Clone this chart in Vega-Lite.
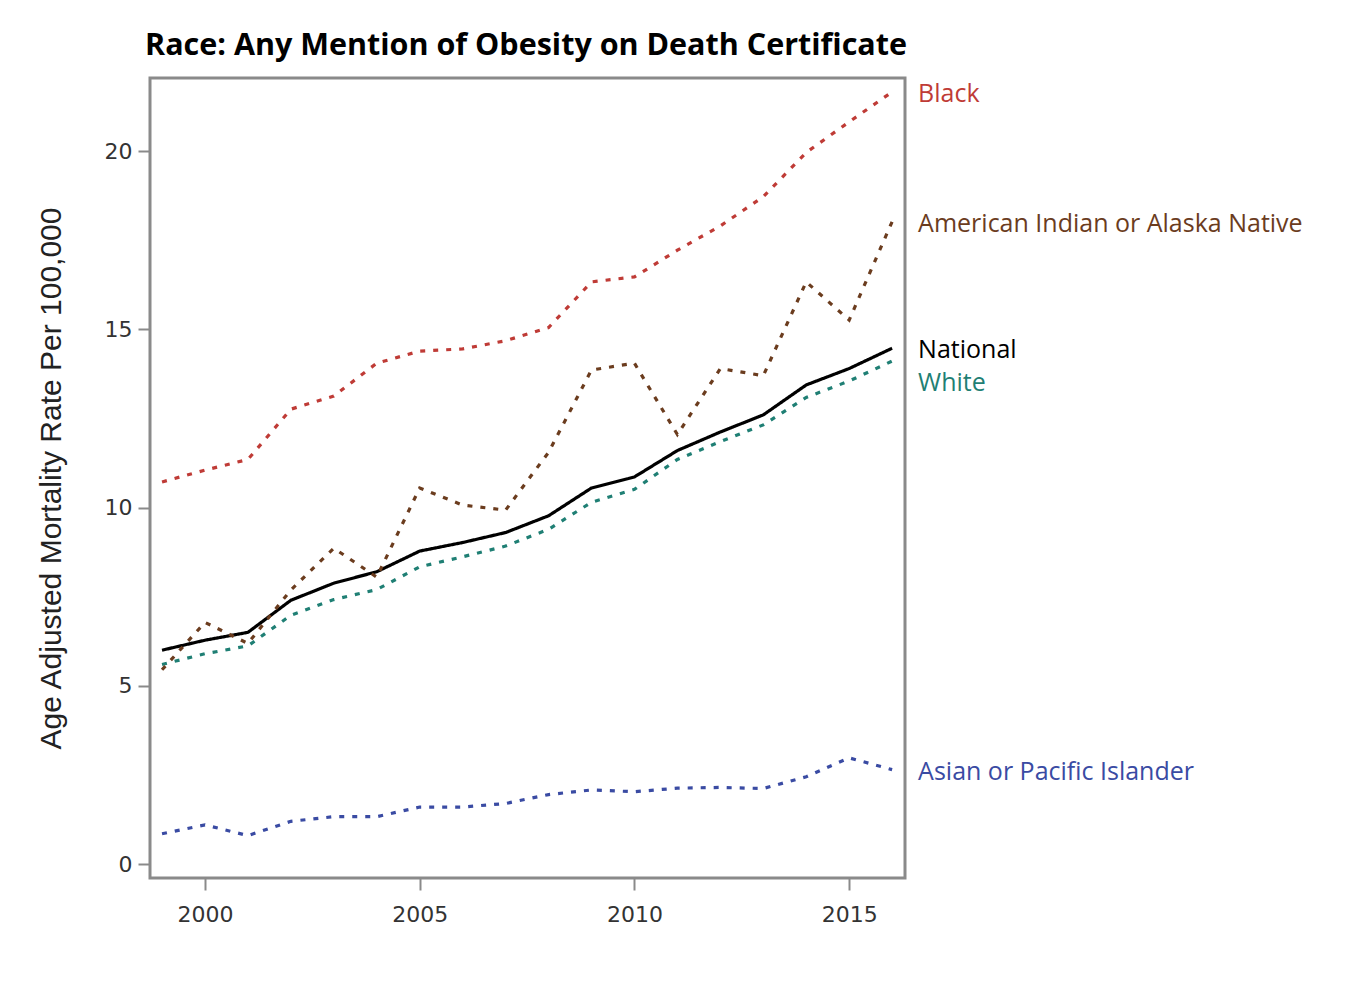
{
  "$schema": "https://vega.github.io/schema/vega-lite/v6.json",
  "width": 755,
  "height": 800,
  "autosize": {"type": "none"},
  "padding": {"left": 150, "top": 78, "right": 446, "bottom": 130},
  "background": "white",
  "title": {
    "text": "Race: Any Mention of Obesity on Death Certificate",
    "anchor": "start",
    "frame": "group",
    "font": "Open Sans",
    "fontSize": 30.5,
    "fontWeight": "bold",
    "color": "#000000",
    "baseline": "alphabetic",
    "offset": 21,
    "dy": 28,
    "dx": -5
  },
  "config": {
    "view": {"stroke": "#8a8a8a", "strokeWidth": 3},
    "axis": {
      "domain": false,
      "grid": false,
      "tickColor": "#8a8a8a",
      "tickWidth": 2,
      "tickSize": 12,
      "labelFont": "DejaVu Sans",
      "labelFontSize": 22,
      "labelColor": "#333333",
      "titleFont": "Liberation Sans",
      "titleFontWeight": "normal",
      "titleFontSize": 30,
      "titleColor": "#222222"
    }
  },
  "data": {
    "values": [
      {"year": 1999, "group": "National", "rate": 6.0},
      {"year": 2000, "group": "National", "rate": 6.28},
      {"year": 2001, "group": "National", "rate": 6.5},
      {"year": 2002, "group": "National", "rate": 7.4},
      {"year": 2003, "group": "National", "rate": 7.88},
      {"year": 2004, "group": "National", "rate": 8.2},
      {"year": 2005, "group": "National", "rate": 8.78},
      {"year": 2006, "group": "National", "rate": 9.02},
      {"year": 2007, "group": "National", "rate": 9.3},
      {"year": 2008, "group": "National", "rate": 9.77},
      {"year": 2009, "group": "National", "rate": 10.55},
      {"year": 2010, "group": "National", "rate": 10.86},
      {"year": 2011, "group": "National", "rate": 11.6},
      {"year": 2012, "group": "National", "rate": 12.12},
      {"year": 2013, "group": "National", "rate": 12.6},
      {"year": 2014, "group": "National", "rate": 13.44},
      {"year": 2015, "group": "National", "rate": 13.9},
      {"year": 2016, "group": "National", "rate": 14.47},

      {"year": 1999, "group": "White", "rate": 5.6},
      {"year": 2000, "group": "White", "rate": 5.9},
      {"year": 2001, "group": "White", "rate": 6.12},
      {"year": 2002, "group": "White", "rate": 6.98},
      {"year": 2003, "group": "White", "rate": 7.42},
      {"year": 2004, "group": "White", "rate": 7.7},
      {"year": 2005, "group": "White", "rate": 8.34},
      {"year": 2006, "group": "White", "rate": 8.62},
      {"year": 2007, "group": "White", "rate": 8.92},
      {"year": 2008, "group": "White", "rate": 9.39},
      {"year": 2009, "group": "White", "rate": 10.15},
      {"year": 2010, "group": "White", "rate": 10.51},
      {"year": 2011, "group": "White", "rate": 11.35},
      {"year": 2012, "group": "White", "rate": 11.85},
      {"year": 2013, "group": "White", "rate": 12.32},
      {"year": 2014, "group": "White", "rate": 13.09},
      {"year": 2015, "group": "White", "rate": 13.55},
      {"year": 2016, "group": "White", "rate": 14.11},

      {"year": 1999, "group": "Black", "rate": 10.72},
      {"year": 2000, "group": "Black", "rate": 11.05},
      {"year": 2001, "group": "Black", "rate": 11.35},
      {"year": 2002, "group": "Black", "rate": 12.76},
      {"year": 2003, "group": "Black", "rate": 13.13},
      {"year": 2004, "group": "Black", "rate": 14.05},
      {"year": 2005, "group": "Black", "rate": 14.39},
      {"year": 2006, "group": "Black", "rate": 14.45},
      {"year": 2007, "group": "Black", "rate": 14.68},
      {"year": 2008, "group": "Black", "rate": 15.05},
      {"year": 2009, "group": "Black", "rate": 16.33},
      {"year": 2010, "group": "Black", "rate": 16.47},
      {"year": 2011, "group": "Black", "rate": 17.22},
      {"year": 2012, "group": "Black", "rate": 17.9},
      {"year": 2013, "group": "Black", "rate": 18.72},
      {"year": 2014, "group": "Black", "rate": 19.96},
      {"year": 2015, "group": "Black", "rate": 20.82},
      {"year": 2016, "group": "Black", "rate": 21.66},

      {"year": 1999, "group": "American Indian or Alaska Native", "rate": 5.45},
      {"year": 2000, "group": "American Indian or Alaska Native", "rate": 6.78},
      {"year": 2001, "group": "American Indian or Alaska Native", "rate": 6.19},
      {"year": 2002, "group": "American Indian or Alaska Native", "rate": 7.69},
      {"year": 2003, "group": "American Indian or Alaska Native", "rate": 8.86},
      {"year": 2004, "group": "American Indian or Alaska Native", "rate": 8.05},
      {"year": 2005, "group": "American Indian or Alaska Native", "rate": 10.55},
      {"year": 2006, "group": "American Indian or Alaska Native", "rate": 10.07},
      {"year": 2007, "group": "American Indian or Alaska Native", "rate": 9.93},
      {"year": 2008, "group": "American Indian or Alaska Native", "rate": 11.55},
      {"year": 2009, "group": "American Indian or Alaska Native", "rate": 13.86},
      {"year": 2010, "group": "American Indian or Alaska Native", "rate": 14.05},
      {"year": 2011, "group": "American Indian or Alaska Native", "rate": 12.05},
      {"year": 2012, "group": "American Indian or Alaska Native", "rate": 13.9},
      {"year": 2013, "group": "American Indian or Alaska Native", "rate": 13.7},
      {"year": 2014, "group": "American Indian or Alaska Native", "rate": 16.33},
      {"year": 2015, "group": "American Indian or Alaska Native", "rate": 15.26},
      {"year": 2016, "group": "American Indian or Alaska Native", "rate": 18.02},

      {"year": 1999, "group": "Asian or Pacific Islander", "rate": 0.85},
      {"year": 2000, "group": "Asian or Pacific Islander", "rate": 1.1},
      {"year": 2001, "group": "Asian or Pacific Islander", "rate": 0.8},
      {"year": 2002, "group": "Asian or Pacific Islander", "rate": 1.2},
      {"year": 2003, "group": "Asian or Pacific Islander", "rate": 1.33},
      {"year": 2004, "group": "Asian or Pacific Islander", "rate": 1.33},
      {"year": 2005, "group": "Asian or Pacific Islander", "rate": 1.6},
      {"year": 2006, "group": "Asian or Pacific Islander", "rate": 1.6},
      {"year": 2007, "group": "Asian or Pacific Islander", "rate": 1.7},
      {"year": 2008, "group": "Asian or Pacific Islander", "rate": 1.95},
      {"year": 2009, "group": "Asian or Pacific Islander", "rate": 2.08},
      {"year": 2010, "group": "Asian or Pacific Islander", "rate": 2.03},
      {"year": 2011, "group": "Asian or Pacific Islander", "rate": 2.13},
      {"year": 2012, "group": "Asian or Pacific Islander", "rate": 2.15},
      {"year": 2013, "group": "Asian or Pacific Islander", "rate": 2.12},
      {"year": 2014, "group": "Asian or Pacific Islander", "rate": 2.45},
      {"year": 2015, "group": "Asian or Pacific Islander", "rate": 2.98},
      {"year": 2016, "group": "Asian or Pacific Islander", "rate": 2.65}
    ]
  },
  "encoding": {
    "x": {
      "field": "year",
      "type": "quantitative",
      "scale": {"domain": [1998.72, 2016.3], "nice": false, "zero": false},
      "axis": {"values": [2000, 2005, 2010, 2015], "format": "d", "title": null, "labelPadding": 14}
    },
    "y": {
      "field": "rate",
      "type": "quantitative",
      "scale": {"domain": [-0.39, 22.05], "nice": false, "zero": false},
      "axis": {"values": [0, 5, 10, 15, 20], "title": "Age Adjusted Mortality Rate Per 100,000", "labelPadding": 6, "titlePadding": 38}
    },
    "color": {
      "field": "group",
      "type": "nominal",
      "legend": null,
      "scale": {
        "domain": ["National", "White", "Black", "American Indian or Alaska Native", "Asian or Pacific Islander"],
        "range": ["#000000", "#1f7f74", "#bf3b36", "#6b3c1e", "#3a4ba3"]
      }
    }
  },
  "layer": [
    {
      "mark": {"type": "line", "strokeWidth": 3.2},
      "encoding": {
        "strokeDash": {
          "field": "group",
          "type": "nominal",
          "legend": null,
          "scale": {
            "domain": ["National", "White", "Black", "American Indian or Alaska Native", "Asian or Pacific Islander"],
            "range": [[1, 0], [5, 8], [5, 8], [5, 8], [5, 8]]
          }
        }
      }
    },
    {
      "transform": [{"filter": "datum.year == 2016 && datum.group != 'White'"}],
      "mark": {"type": "text", "align": "left", "baseline": "middle", "dx": 26, "dy": 2, "font": "Open Sans", "fontSize": 25},
      "encoding": {"text": {"field": "group"}}
    },
    {
      "transform": [{"filter": "datum.year == 2016 && datum.group == 'White'"}],
      "mark": {"type": "text", "align": "left", "baseline": "middle", "dx": 26, "dy": 22, "font": "Open Sans", "fontSize": 25},
      "encoding": {"text": {"field": "group"}}
    }
  ]
}
